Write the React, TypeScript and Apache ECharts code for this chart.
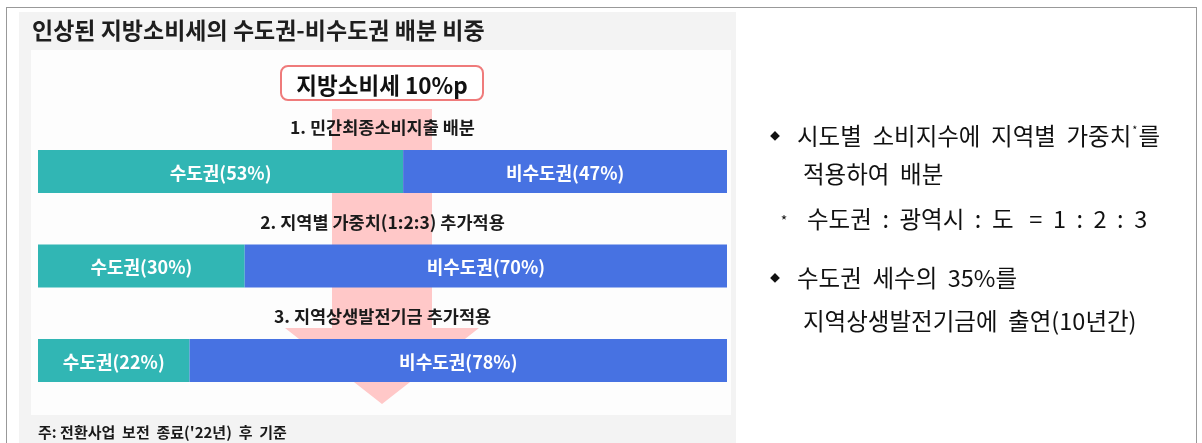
import React, { useEffect, useRef } from "react";
import * as echarts from "echarts";

const title = "인상된 지방소비세의 수도권-비수도권 배분 비중";
const boxLabel = "지방소비세 10%p";
const steps = [
  "1. 민간최종소비지출 배분",
  "2. 지역별 가중치(1:2:3) 추가적용",
  "3. 지역상생발전기금 추가적용",
];
const seriesNames = ["수도권", "비수도권"];
const capitalShare = [53, 30, 22];
const nonCapitalShare = [47, 70, 78];
const note = "주: 전환사업  보전  종료('22년)  후  기준";
const rightLines = [
  { kind: "bullet", text: "시도별  소비지수에  지역별  가중치{s|*}를" },
  { kind: "cont", text: "적용하여  배분" },
  { kind: "star", text: "수도권  :  광역시  :  도   =  1  :  2  :  3" },
  { kind: "bullet", text: "수도권  세수의  35%를" },
  { kind: "cont", text: "지역상생발전기금에  출연(10년간)" },
];

const FONT = "'Noto Sans CJK KR', 'Noto Sans', sans-serif";

export default function App() {
  const ref = useRef<HTMLDivElement>(null);
  useEffect(() => {
    if (!ref.current) return;
    const chart = echarts.init(ref.current, undefined, { renderer: "svg" });
    const labelFmt = (p: any) => `${p.seriesName}(${p.value}%)`;
    const barLabel = {
      show: true,
      position: "inside",
      color: "#ffffff",
      fontWeight: "bold",
      fontSize: 18,
      fontFamily: FONT,
      formatter: labelFmt,
    };
    chart.setOption({
      animation: false,
      grid: { left: 38, right: 475, top: 124.25, bottom: 35.25 },
      xAxis: { type: "value", min: 0, max: 100, show: false },
      yAxis: { type: "category", data: steps, inverse: true, show: false },
      series: [
        {
          name: seriesNames[0],
          type: "bar",
          stack: "share",
          data: capitalShare,
          barWidth: 43,
          z: 10,
          itemStyle: { color: "#31b6b4" },
          label: barLabel,
        },
        {
          name: seriesNames[1],
          type: "bar",
          stack: "share",
          data: nonCapitalShare,
          barWidth: 43,
          z: 10,
          itemStyle: { color: "#4772e2" },
          label: barLabel,
        },
      ],
    });

    const cx = chart.convertToPixel({ xAxisIndex: 0 }, 50) as number;
    const stepYs = steps.map((s) => (chart.convertToPixel({ yAxisIndex: 0 }, s) as number) - 45);

    const elements: any[] = [
      {
        type: "rect",
        z: 0,
        shape: { x: 6.5, y: 7.5, width: 1190, height: 460 },
        style: { fill: "#ffffff", stroke: "#333", lineWidth: 1, lineDash: [1, 1] },
      },
      {
        type: "rect",
        z: 1,
        shape: { x: 19, y: 12, width: 717, height: 440 },
        style: { fill: "#f3f3f3" },
      },
      {
        type: "rect",
        z: 2,
        shape: { x: 31, y: 50, width: 700, height: 365 },
        style: { fill: "#fdfdfd" },
      },
      {
        type: "text",
        z: 20,
        x: 32,
        y: 29,
        style: {
          text: title,
          fontFamily: FONT,
          fontWeight: "bold",
          fontSize: 23,
          fill: "#1e1e1e",
          verticalAlign: "middle",
        },
      },
      {
        type: "polygon",
        z: 3,
        shape: {
          points: [
            [332, 109],
            [432, 109],
            [432, 328],
            [479, 328],
            [382, 404],
            [285, 328],
            [332, 328],
          ],
        },
        style: { fill: "#ffc8c8" },
      },
      {
        type: "rect",
        z: 20,
        shape: { x: 281, y: 66, width: 202, height: 34, r: 7 },
        style: { fill: "#ffffff", stroke: "#ef7b7b", lineWidth: 2 },
      },
      {
        type: "text",
        z: 21,
        x: 382,
        y: 84,
        style: {
          text: boxLabel,
          fontFamily: FONT,
          fontWeight: "bold",
          fontSize: 22.5,
          fill: "#111",
          align: "center",
          verticalAlign: "middle",
        },
      },
      ...steps.map((s, i) => ({
        type: "text",
        z: 20,
        x: cx,
        y: stepYs[i],
        style: {
          text: s,
          fontFamily: FONT,
          fontWeight: "bold",
          fontSize: 17.5,
          fill: "#1a1a1a",
          align: "center",
          verticalAlign: "middle",
        },
      })),
      {
        type: "text",
        z: 20,
        x: 38,
        y: 431,
        style: {
          text: note,
          fontFamily: FONT,
          fontWeight: "bold",
          fontSize: 15,
          fill: "#1a1a1a",
          verticalAlign: "middle",
        },
      },
    ];

    const lineYs = [135, 173, 218, 277, 320];
    rightLines.forEach((ln, i) => {
      const y = lineYs[i];
      let x = 803;
      if (ln.kind === "bullet") {
        x = 797;
        elements.push({
          type: "text",
          z: 20,
          x: 775,
          y,
          style: { text: "◆", fontFamily: FONT, fontSize: 10, fill: "#111", align: "center", verticalAlign: "middle" },
        });
      } else if (ln.kind === "star") {
        x = 807;
        elements.push({
          type: "text",
          z: 20,
          x: 784,
          y: y + 2,
          style: { text: "*", fontFamily: FONT, fontSize: 14, fill: "#111", align: "center", verticalAlign: "middle" },
        });
      }
      elements.push({
        type: "text",
        z: 20,
        x,
        y,
        style: {
          text: ln.text,
          fontFamily: FONT,
          fontSize: 23.5,
          fill: "#111",
          verticalAlign: "middle",
          rich: {
            s: { fontSize: 11, fontFamily: FONT, fill: "#111", padding: [0, 1, 13, 1] },
          },
        },
      });
    });

    chart.setOption({ graphic: { elements } });
    return () => chart.dispose();
  }, []);
  return (
    <div
      ref={ref}
      style={{ position: "fixed", left: 0, top: 0, width: 1202, height: 443 }}
    />
  );
}
